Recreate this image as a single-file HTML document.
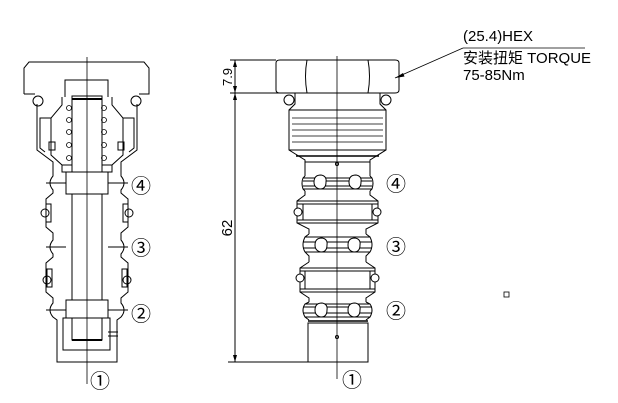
<!DOCTYPE html>
<html><head><meta charset="utf-8"><style>
html,body{margin:0;padding:0;background:#fff;}
svg{display:block}
text{font-family:"Liberation Sans","Noto Sans CJK SC",sans-serif;fill:#000}
</style></head><body>
<svg width="618" height="403" viewBox="0 0 618 403" xmlns="http://www.w3.org/2000/svg">
<g fill="none" stroke="#000" stroke-width="1">
<!-- LEFT VIEW -->
<line x1="87" y1="57" x2="87" y2="384" stroke-width="0.8"/>
<path d="M24,94 L24,68 L29,62 L144,62 L149,68 L149,94 L139,94"/>
<line x1="24" y1="94" x2="35" y2="94"/>
<circle cx="38" cy="101" r="5"/><circle cx="136" cy="101" r="5"/>
<path d="M37,104 L37,150 L53,162 L53,176 Q47,183 53,190 L53,193 L46,199 L46,227 L53,233 L53,240 Q47,247 53,254 L53,257 L46,263 L46,292 L53,298 L53,303 Q47,310 53,317 L57,320 L57,362 L117,362 L117,320 L121,317 Q127,310 121,303 L121,298 L128,292 L128,263 L121,257 L121,254 Q127,247 121,240 L121,233 L128,227 L128,199 L121,193 L121,190 Q127,183 121,176 L121,162 L137,150 L137,104"/>
<line x1="46" y1="183" x2="66" y2="183"/><line x1="108" y1="183" x2="128" y2="183"/>
<line x1="46" y1="247" x2="66" y2="247"/><line x1="108" y1="247" x2="128" y2="247"/>
<line x1="46" y1="310" x2="66" y2="310"/><line x1="108" y1="310" x2="128" y2="310"/>
<rect x="46" y="204" width="5" height="18"/><rect x="123" y="204" width="5" height="18"/>
<circle cx="45" cy="213" r="4"/><circle cx="129" cy="213" r="4"/>
<rect x="47" y="269" width="5" height="18"/><rect x="122" y="269" width="5" height="18"/>
<circle cx="47" cy="280" r="4"/><circle cx="127" cy="280" r="4"/>
<path d="M65,97 L65,80 L108,80 L108,97"/>
<path d="M62,97 L62,105 L51,118 L51,155 L62,165 L62,172"/>
<path d="M112,97 L112,105 L123,118 L123,155 L112,165 L112,172"/>
<path d="M51,118 L40,118 L40,148 L45,152"/><path d="M123,118 L134,118 L134,148 L129,152"/>
<rect x="49" y="142" width="6" height="8"/><rect x="118" y="142" width="6" height="8"/>
<rect x="72" y="96" width="30" height="76"/>
<line x1="72" y1="99" x2="102" y2="99" stroke-width="2"/>
<g stroke-width="0.8">
<circle cx="69" cy="108" r="2.5"/><circle cx="69" cy="120" r="2.5"/><circle cx="69" cy="132" r="2.5"/><circle cx="69" cy="145" r="2.5"/><circle cx="69" cy="158" r="2.5"/>
<circle cx="104" cy="108" r="2.5"/><circle cx="104" cy="120" r="2.5"/><circle cx="104" cy="132" r="2.5"/><circle cx="104" cy="145" r="2.5"/><circle cx="104" cy="158" r="2.5"/>
</g>
<rect x="62" y="165" width="10" height="7"/><rect x="102" y="165" width="10" height="7"/>
<rect x="66" y="172" width="42" height="22"/>
<line x1="72" y1="194" x2="72" y2="300"/><line x1="102" y1="194" x2="102" y2="300"/>
<rect x="66" y="300" width="42" height="18"/>
<rect x="63" y="318" width="47" height="32"/>
<rect x="72" y="318" width="30" height="22"/>
<line x1="72" y1="340" x2="102" y2="340" stroke-width="2"/>
<line x1="108" y1="332" x2="118" y2="332"/><line x1="108" y1="336" x2="118" y2="336"/>
<!-- RIGHT VIEW -->
<line x1="337" y1="56" x2="337" y2="379" stroke-width="0.8"/>
<path d="M276,63 Q276,60 280,60 L395,60 Q399,60 399,63 L399,90 Q399,93 395,93 L280,93 Q276,93 276,90 Z"/>
<path d="M307,60 Q304,76 307,93"/><path d="M368,60 Q371,76 368,93"/>
<circle cx="289" cy="100" r="5"/><circle cx="386" cy="100" r="5"/>
<path d="M295,93 L295,104 L289,110 L289,150 L305,160 L305,176"/>
<path d="M380,93 L380,104 L386,110 L386,150 L370,160 L370,176"/>
<line x1="289" y1="110" x2="386" y2="110"/>
<g stroke-width="0.8">
<line x1="292" y1="118" x2="383" y2="118"/><line x1="292" y1="124" x2="383" y2="124"/><line x1="292" y1="130" x2="383" y2="130"/>
<line x1="292" y1="136" x2="383" y2="136"/><line x1="292" y1="142" x2="383" y2="142"/>
</g>
<line x1="289" y1="150" x2="386" y2="150"/>
<line x1="296" y1="156" x2="379" y2="156" stroke-width="1.5"/>
<line x1="305" y1="162" x2="370" y2="162"/>
<circle cx="337" cy="164" r="1.5"/>
<path d="M305,176 L303,178 Q301,183 303,189 L305,191"/><path d="M370,176 L372,178 Q374,183 372,189 L370,191"/>
<line x1="303" y1="178" x2="372" y2="178"/><line x1="303" y1="189" x2="372" y2="189"/>
<line x1="303" y1="181" x2="372" y2="181"/><line x1="303" y1="186" x2="372" y2="186"/>
<path d="M314,182 Q314,175 321,175 Q327,176 326,182 Q326,189 320,189 Q314,188 314,182Z" fill="#fff"/>
<path d="M349,182 Q349,175 356,175 Q362,176 361,182 Q361,189 355,189 Q349,188 349,182Z" fill="#fff"/>
<path d="M305,191 L305,195 L297,201 L297,223 L309,229 L309,234"/>
<path d="M370,191 L370,195 L378,201 L378,223 L366,229 L366,234"/>
<line x1="297" y1="201" x2="378" y2="201"/><line x1="297" y1="223" x2="378" y2="223"/>
<rect x="303" y="204" width="69" height="16"/>
<rect x="297" y="204" width="6" height="16"/><rect x="372" y="204" width="6" height="16"/>
<circle cx="298" cy="212" r="4" fill="#fff"/><circle cx="377" cy="212" r="4" fill="#fff"/>
<path d="M309,234 L305,237 Q301,245 305,252 L309,256 L309,262"/>
<path d="M366,234 L370,237 Q374,245 370,252 L366,256 L366,262"/>
<line x1="305" y1="237" x2="370" y2="237"/><line x1="305" y1="252" x2="370" y2="252"/>
<line x1="303" y1="242" x2="372" y2="242"/><line x1="303" y1="248" x2="372" y2="248"/>
<path d="M315,245 Q315,238 322,238 Q328,239 327,245 Q327,252 321,252 Q315,251 315,245Z" fill="#fff"/>
<path d="M348,245 Q348,238 355,238 Q361,239 360,245 Q360,252 354,252 Q348,251 348,245Z" fill="#fff"/>
<path d="M309,262 L300,268 L300,292 L309,298 L309,302"/>
<path d="M366,262 L375,268 L375,292 L366,298 L366,302"/>
<line x1="300" y1="268" x2="375" y2="268"/><line x1="300" y1="292" x2="375" y2="292"/>
<rect x="305" y="271" width="65" height="18"/>
<rect x="300" y="271" width="5" height="18"/><rect x="370" y="271" width="5" height="18"/>
<circle cx="300" cy="278" r="4" fill="#fff"/><circle cx="375" cy="278" r="4" fill="#fff"/>
<path d="M309,302 L305,304 Q301,310 305,317 L309,320"/>
<path d="M366,302 L370,304 Q374,310 370,317 L366,320"/>
<line x1="305" y1="304" x2="370" y2="304"/><line x1="305" y1="317" x2="370" y2="317"/>
<line x1="303" y1="307" x2="372" y2="307"/><line x1="303" y1="313" x2="372" y2="313"/>
<path d="M315,310 Q315,303 322,303 Q328,304 327,310 Q327,317 321,317 Q315,316 315,310Z" fill="#fff"/>
<path d="M348,310 Q348,303 355,303 Q361,304 360,310 Q360,317 354,317 Q348,316 348,310Z" fill="#fff"/>
<line x1="308" y1="321" x2="368" y2="321" stroke-width="1.5"/>
<rect x="308" y="323" width="60" height="39"/>
<circle cx="337" cy="337" r="1.5"/>
<line x1="230" y1="60" x2="276" y2="60"/><line x1="230" y1="93" x2="290" y2="93"/><line x1="228" y1="362" x2="308" y2="362"/>
<line x1="235" y1="60" x2="235" y2="93"/><line x1="235" y1="93" x2="235" y2="362"/>
<line x1="463" y1="48" x2="585" y2="48" stroke-width="0.8"/>
<line x1="463" y1="48" x2="395" y2="78" stroke-width="0.8"/>
<rect x="504" y="292" width="5" height="5" stroke-width="0.8"/>
</g>
<g fill="#000">
<path d="M235,60 l-2,7 h4z"/><path d="M235,93 l-2,-7 h4z"/>
<path d="M235,93 l-2,7 h4z"/><path d="M235,362 l-2,-7 h4z"/>
<path d="M395,78 l8,-5 l1.5,3.5z"/>
</g>
<text transform="translate(232,77) rotate(-90)" font-size="13" text-anchor="middle">7.9</text>
<text transform="translate(232,228) rotate(-90)" font-size="15" text-anchor="middle">62</text>
<text x="463" y="41" font-size="15">(25.4)HEX</text>
<text x="463" y="63" font-size="15">安装扭矩 TORQUE</text>
<text x="463" y="80" font-size="15">75-85Nm</text>
<g font-size="20" font-family="'Liberation Serif','Noto Serif CJK SC',serif" text-anchor="middle">
<text x="141" y="193">④</text><text x="141" y="255">③</text><text x="141" y="321">②</text><text x="100" y="388">①</text>
<text x="396" y="191">④</text><text x="396" y="254">③</text><text x="396" y="318">②</text><text x="352" y="387">①</text>
</g>
</svg>
</body></html>
